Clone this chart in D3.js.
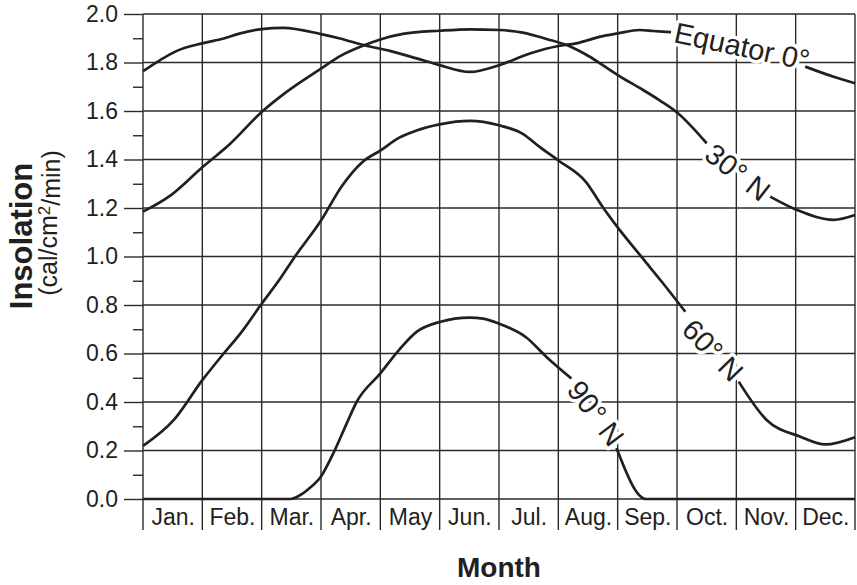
<!DOCTYPE html>
<html lang="en">
<head>
<meta charset="utf-8">
<title>Insolation by Month</title>
<script src="https://d3js.org/d3.v7.min.js"></script>
<style>
    body { margin: 0; background: #fff; }
    svg { display: block; font-family: "Liberation Sans", Arial, Helvetica, sans-serif; }
    .grid line { stroke: #2b2b2b; stroke-width: 1.4; }
    .tick text { fill: #231f20; }
    .curve { fill: none; stroke: #231f20; stroke-width: 2.7; }
    .lbl { fill: #231f20; stroke: #fff; stroke-width: 7; paint-order: stroke; stroke-linejoin: round; }
</style>
</head>
<body>
<div id="chart"></div>
<script>
// months, x is in month units (0 = start of Jan)
var months = ["Jan.", "Feb.", "Mar.", "Apr.", "May", "Jun.", "Jul.", "Aug.", "Sep.", "Oct.", "Nov.", "Dec."];
var yMajor = [0, 0.2, 0.4, 0.6, 0.8, 1.0, 1.2, 1.4, 1.6, 1.8, 2.0];
var yMinor = [0.1, 0.3, 0.5, 0.7, 0.9, 1.1, 1.3, 1.5, 1.7, 1.9];

// [month, cal/cm2/min], null = gap where the label sits
var equator = [[0,1.764],[0.29,1.81],[0.57,1.848],[1.0,1.879],[1.36,1.899],[1.64,1.92],[2.0,1.938],[2.36,1.943],
    [3.0,1.917],[3.32,1.899],[3.76,1.869],[4.16,1.848],[4.61,1.817],[5.0,1.789],[5.51,1.761],[6.0,1.789],
    [6.52,1.837],[7.0,1.868],[7.3,1.879],[7.75,1.909],[8.0,1.92],[8.37,1.934],[8.6,1.93],[8.9,1.925],
    null,[11.16,1.783],[11.64,1.741],[12.0,1.714]];
var lat30 = [[0,1.185],[0.46,1.251],[1.0,1.368],[1.47,1.465],[2.0,1.596],[2.42,1.679],[3.0,1.775],[3.32,1.826],
    [3.76,1.874],[4.0,1.895],[4.38,1.918],[5.0,1.931],[5.51,1.937],[6.0,1.934],[6.4,1.923],[6.8,1.897],
    [7.2,1.866],[7.5,1.828],[8.0,1.748],[8.37,1.695],[8.72,1.642],[9.02,1.59],[9.5,1.467],
    null,[10.57,1.247],[11.02,1.192],[11.64,1.151],[12.0,1.171]];
var lat60 = [[0,0.219],[0.52,0.326],[1.0,0.49],[1.36,0.6],[1.64,0.682],[2.0,0.805],[2.31,0.908],[2.53,0.989],
    [3.0,1.148],[3.35,1.29],[3.7,1.39],[4.0,1.437],[4.32,1.49],[4.61,1.52],[5.0,1.545],[5.51,1.559],
    [6.0,1.541],[6.4,1.506],[6.69,1.451],[7.0,1.396],[7.47,1.306],[7.75,1.203],[8.0,1.12],[8.43,0.99],
    [8.72,0.903],[9.14,0.772],null,[10.04,0.484],[10.51,0.326],[11.08,0.257],[11.5,0.225],[12.0,0.255]];
var lat90 = [[0,0],[2.48,0],[2.59,0.008],[2.81,0.045],[3.0,0.093],[3.23,0.2],[3.43,0.31],[3.6,0.4],
    [4.0,0.518],[4.32,0.616],[4.61,0.689],[5.0,0.73],[5.51,0.748],[5.73,0.744],[6.0,0.723],[6.46,0.666],
    [6.8,0.586],[7.22,0.497],null,[7.98,0.21],[8.48,0],[12,0]];

var labels = [
    {text: "Equator 0\u00b0", x: 742, y: 46, rot: 12},
    {text: "30\u00b0 N", x: 738, y: 172, rot: 38},
    {text: "60\u00b0 N", x: 713, y: 350, rot: 46},
    {text: "90\u00b0 N", x: 596, y: 413, rot: 53}
];

var width = 857, height = 585;
var x = d3.scaleLinear().domain([0, 12]).range([143, 855]);
var y = d3.scaleLinear().domain([0, 2]).range([499, 14]);

var svg = d3.select("#chart").append("svg")
    .attr("width", width)
    .attr("height", height);

// horizontal grid
svg.append("g").attr("class", "grid")
    .selectAll("line").data(yMajor).enter().append("line")
    .attr("x1", x(0)).attr("x2", x(12))
    .attr("y1", function(d) { return y(d); })
    .attr("y2", function(d) { return y(d); });

// vertical month lines, running down through the label row
svg.append("g").attr("class", "grid")
    .selectAll("line").data(d3.range(0, 13)).enter().append("line")
    .attr("x1", function(d) { return x(d); })
    .attr("x2", function(d) { return x(d); })
    .attr("y1", y(2)).attr("y2", 530);

// y axis major + minor ticks
var yAxis = d3.axisLeft(y).tickValues(yMajor).tickSize(19).tickPadding(6)
    .tickFormat(d3.format(".1f"));
var gy = svg.append("g").attr("transform", "translate(" + x(0) + ",0)").call(yAxis);
gy.select(".domain").remove();
gy.selectAll(".tick line").attr("stroke", "#2b2b2b").attr("stroke-width", 1.4);
gy.selectAll(".tick text").style("font-size", "23px");

var gyMinor = svg.append("g").attr("transform", "translate(" + x(0) + ",0)")
    .call(d3.axisLeft(y).tickValues(yMinor).tickSize(10).tickFormat(""));
gyMinor.select(".domain").remove();
gyMinor.selectAll(".tick line").attr("stroke", "#2b2b2b").attr("stroke-width", 1.4);

// month labels centred in each column
var xAxis = d3.axisBottom(x)
    .tickValues(d3.range(0.5, 12, 1))
    .tickSize(0).tickPadding(10)
    .tickFormat(function(d) { return months[Math.floor(d)]; });
var gx = svg.append("g").attr("transform", "translate(0," + y(0) + ")").call(xAxis);
gx.select(".domain").remove();
gx.selectAll(".tick text").style("font-size", "23px");

// curves
var line = d3.line()
    .defined(function(d) { return d !== null; })
    .x(function(d) { return x(d[0]); })
    .y(function(d) { return y(d[1]); })
    .curve(d3.curveMonotoneX);

[equator, lat30, lat60, lat90].forEach(function(s) {
    svg.append("path").attr("class", "curve").attr("d", line(s));
});

// curve labels
svg.selectAll(".lbl").data(labels).enter().append("text")
    .attr("class", "lbl")
    .attr("transform", function(d) { return "translate(" + d.x + "," + d.y + ") rotate(" + d.rot + ")"; })
    .attr("text-anchor", "middle")
    .attr("dy", "0.36em")
    .style("font-size", "29px")
    .text(function(d) { return d.text; });

// axis titles
svg.append("text")
    .attr("x", (x(0) + x(12)) / 2).attr("y", 577)
    .attr("text-anchor", "middle")
    .style("font-size", "28px").style("font-weight", "bold").attr("fill", "#231f20")
    .text("Month");

svg.append("text")
    .attr("transform", "translate(32,236) rotate(-90)")
    .attr("text-anchor", "middle")
    .style("font-size", "31px").style("font-weight", "bold").attr("fill", "#231f20")
    .text("Insolation");

var sub = svg.append("text")
    .attr("transform", "translate(57,223) rotate(-90)")
    .attr("text-anchor", "middle")
    .style("font-size", "25px").attr("fill", "#231f20");
sub.append("tspan").text("(cal/cm");
sub.append("tspan").attr("dy", "-0.4em").style("font-size", "17px").text("2");
sub.append("tspan").attr("dy", "0.4em").text("/min)");
</script>
</body>
</html>
